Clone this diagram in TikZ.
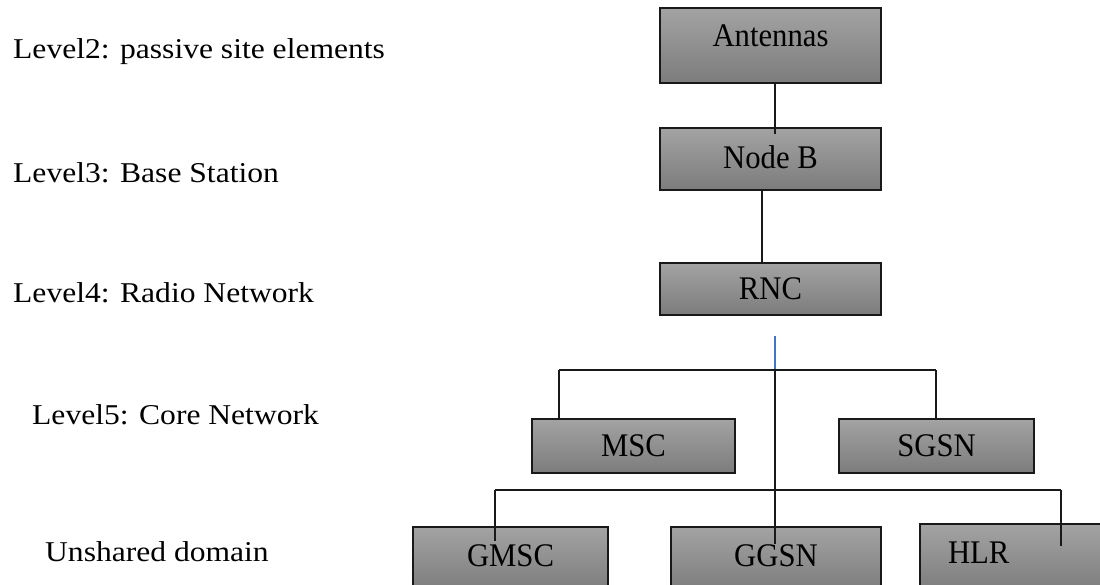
\documentclass[tikz,border=0pt]{standalone}
\usepackage{fontspec}
\setmainfont{Liberation Serif}
\newfontfamily\levelfont[FakeStretch=1.1]{Liberation Serif}
\newfontfamily\boxfont[FakeStretch=0.93]{Liberation Serif}
\usetikzlibrary{calc}
\definecolor{boxtop}{RGB}{163,163,163}
\definecolor{boxbot}{RGB}{124,124,124}
\definecolor{linkblue}{RGB}{68,114,196}
\definecolor{inkline}{RGB}{25,25,25}
\tikzset{
  unit/.style={draw=inkline, line width=1.4pt, inner sep=0pt,
    top color=boxtop, bottom color=boxbot,
    font=\boxfont\fontsize{33}{38}\selectfont},
  level/.style={anchor=base west, inner sep=0pt,
    font=\levelfont\fontsize{28.7}{34}\selectfont},
  link/.style={draw=inkline, line width=1.1pt},
  feed/.style={draw=linkblue, line width=1.1pt}
}
\begin{document}
\begin{tikzpicture}[x=1pt, y=-1pt]
  \useasboundingbox (0,0) rectangle (1100,585);
  \clip (0,0) rectangle (1100,585);

  % level captions on the left
  \node[level] (l2) at (13,59)  {Level2: passive site elements};
  \node[level] (l3) at (13,183) {Level3: Base Station};
  \node[level] (l4) at (13,302) {Level4: Radio Network};
  \node[level] (l5) at (32,424) {Level5: Core Network};
  \node[level] (l6) at (45,561) {Unshared domain};

  % network element boxes
  \node[unit, minimum width=221pt, minimum height=75pt, text depth=19pt]
    (ant) at (770.5,45.5) {Antennas};
  \node[unit, minimum width=221pt, minimum height=62pt, text depth=4pt]
    (nodeb) at (770.5,159) {Node B};
  \node[unit, minimum width=221pt, minimum height=52pt]
    (rnc) at (770.5,289) {RNC};
  \node[unit, minimum width=203pt, minimum height=54pt]
    (msc) at (633.5,446) {MSC};
  \node[unit, minimum width=195pt, minimum height=54pt]
    (sgsn) at (936.5,446) {SGSN};
  \node[unit, minimum width=195pt, minimum height=65pt, text depth=7pt]
    (gmsc) at (510.5,559.5) {GMSC};
  \node[unit, minimum width=210pt, minimum height=65pt, text depth=7pt]
    (ggsn) at (776,559.5) {GGSN};
  \node[unit, minimum width=200pt, minimum height=68pt, text depth=10pt,
        inner xsep=28pt, text width=144pt, align=left]
    (hlr) at (1020,558) {HLR};

  % bus junctions
  \coordinate (feedtop) at (775,336);
  \coordinate (bus1) at (775,370);
  \coordinate (bus2) at (775,490);

  % vertical links between the upper levels
  \draw[link] ($(ant.south)+(4.5,0)$) -- ++(0,50);
  \draw[link] ($(nodeb.south)+(-8.5,0)$) coordinate (nb) -- (nb |- rnc.north);

  % feed below the RNC and the trunk down to the GGSN
  \draw[feed] (feedtop) -- (bus1);
  \draw[link] (bus1) -- (bus1 |- ggsn.north) -- ++(0,18);

  % core network bus
  \draw[link] (559,370) coordinate (c1) -- (936,370) coordinate (c2);
  \draw[link] (c1) -- (c1 |- msc.north);
  \draw[link] (c2) -- (c2 |- sgsn.north);

  % unshared domain bus
  \draw[link] (495,490) coordinate (d1) -- (1061,490) coordinate (d2);
  \draw[link] (d1) -- ($(d1 |- gmsc.north)+(0,15)$);
  \draw[link] (d2) -- ($(d2 |- hlr.north)+(0,23)$);
\end{tikzpicture}
\end{document}
